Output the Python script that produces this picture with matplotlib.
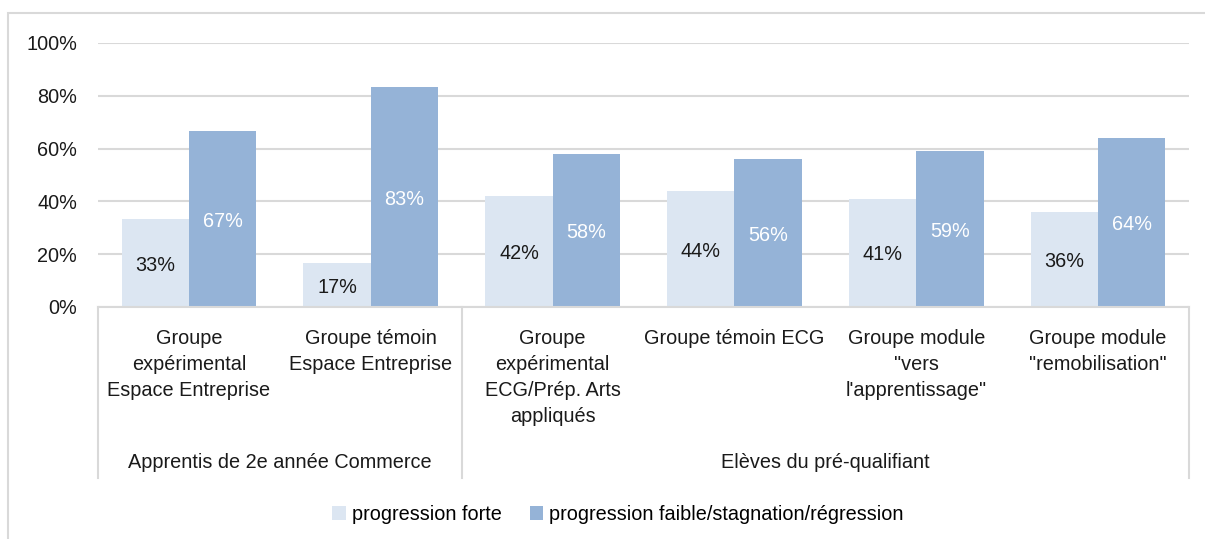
import matplotlib
matplotlib.use("Agg")
import matplotlib.pyplot as plt
import numpy as np
from matplotlib.transforms import blended_transform_factory
from matplotlib.patches import Rectangle, Patch
from matplotlib.lines import Line2D

plt.rcParams['font.family'] = ['Liberation Sans', 'DejaVu Sans']

categories = [
    "Groupe\nexpérimental\nEspace Entreprise",
    "Groupe témoin\nEspace Entreprise",
    "Groupe\nexpérimental\nECG/Prép. Arts\nappliqués",
    "Groupe témoin ECG",
    "Groupe module\n\"vers\nl'apprentissage\"",
    "Groupe module\n\"remobilisation\"",
]
groups = ["Apprentis de 2e année Commerce", "Elèves du pré-qualifiant"]
group_sizes = [2, 4]
series_names = ["progression forte", "progression faible/stagnation/régression"]
forte = [33.3, 16.7, 42, 44, 41, 36]
faible = [66.7, 83.3, 58, 56, 59, 64]
yticks = [0, 20, 40, 60, 80, 100]

LIGHT = "#DCE6F2"
DARK = "#95B3D7"
GRID = "#D9D9D9"
FS = 14.3

fig = plt.figure(figsize=(12.05, 5.39), dpi=100)
W, H = 1205, 539
ax = fig.add_axes([98 / W, 1 - 307 / H, (1189 - 98) / W, (307 - 43) / H])

x = np.arange(len(categories))
bw = 0.37
b1 = ax.bar(x - bw / 2, forte, bw, color=LIGHT, zorder=2)
b2 = ax.bar(x + bw / 2, faible, bw, color=DARK, zorder=2)

for rect, v in zip(b1, forte):
    ax.text(rect.get_x() + rect.get_width() / 2, v / 2 - 0.8, f"{v:.0f}%",
            ha='center', va='center', fontsize=FS, color='#1a1a1a')
for rect, v in zip(b2, faible):
    ax.text(rect.get_x() + rect.get_width() / 2, v / 2 - 0.8, f"{v:.0f}%",
            ha='center', va='center', fontsize=FS, color='white')

ax.set_xlim(-0.5, len(categories) - 0.5)
ax.set_ylim(0, 100)
ax.set_yticks(yticks)
ax.set_yticklabels([f"{t}%" for t in yticks], fontsize=FS, color='#1a1a1a')
ax.tick_params(axis='y', length=0, pad=15)
ax.set_xticks([])
ax.yaxis.grid(True, color=GRID, linewidth=1.5, zorder=0)
ax.set_axisbelow(True)
for s in ['top', 'right', 'left']:
    ax.spines[s].set_visible(False)
ax.spines['bottom'].set_color(GRID)
ax.spines['bottom'].set_linewidth(1.5)

# category axis
trans = blended_transform_factory(ax.transData, fig.transFigure)
y_top = 1 - 307 / H
y_bot = 1 - 478 / H
for i, c in enumerate(categories):
    ax.text(i, 1 - 329 / H, c, transform=trans, ha='center', va='top',
            fontsize=FS, color='#1a1a1a', linespacing=1.47, clip_on=False)

bounds = np.concatenate([[0], np.cumsum(group_sizes)]) - 0.5
for b in bounds:
    ax.add_line(Line2D([b, b], [y_top, y_bot], transform=trans, color=GRID,
                       linewidth=1.5, clip_on=False))
for g, lo, hi in zip(groups, bounds[:-1], bounds[1:]):
    ax.text((lo + hi) / 2, 1 - 463 / H, g, transform=trans, ha='center',
            va='center', fontsize=FS, color='#1a1a1a', clip_on=False)

# legend
handles = [Patch(facecolor=LIGHT, edgecolor='none'), Patch(facecolor=DARK, edgecolor='none')]
fig.legend(handles, series_names, loc='center', bbox_to_anchor=(618 / W, 1 - 514 / H),
           ncol=2, frameon=False, fontsize=FS, handlelength=0.7, handleheight=0.7,
           handletextpad=0.3, columnspacing=1.4)

# outer border
fig.patches.append(Rectangle((8 / W, -0.05), 1.0, (1 - 13 / H) + 0.05, fill=False,
                             edgecolor=GRID, linewidth=1.5, transform=fig.transFigure))

fig.savefig("out.png", dpi=100)
